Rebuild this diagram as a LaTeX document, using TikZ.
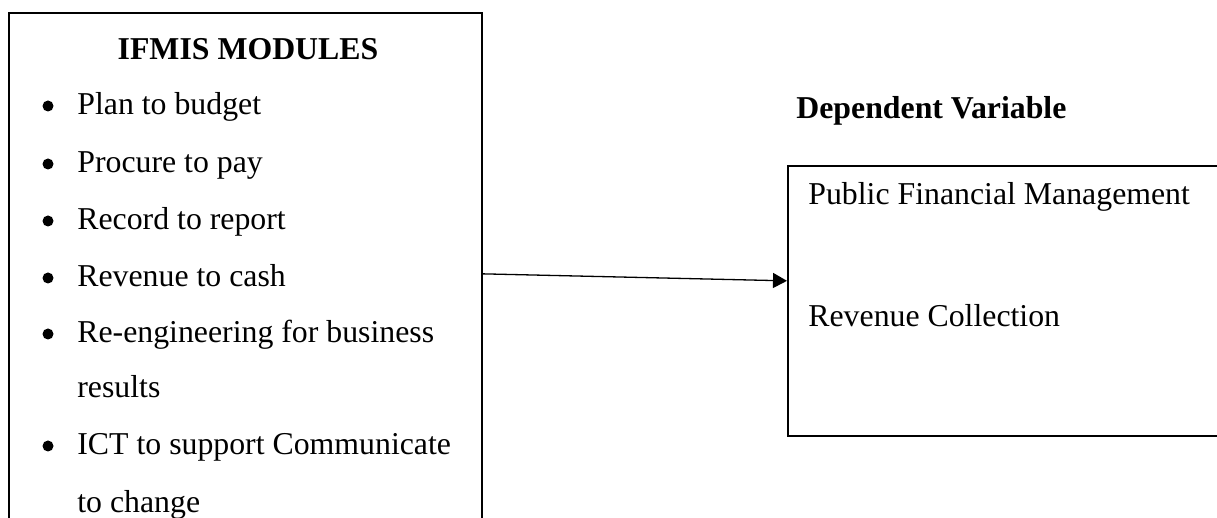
\documentclass[tikz,border=0pt]{standalone}
\usepackage{fontspec}
\setmainfont{Liberation Serif}
\usetikzlibrary{positioning, arrows.meta}

\begin{document}
\begin{tikzpicture}[
        x=0.5pt, y=-0.5pt,
        frame/.style={rectangle, draw, line width=0.85pt, inner sep=0, anchor=north west},
        heading/.style={font=\fontsize{15.9}{19}\selectfont\bfseries, inner sep=0},
        item/.style={font=\fontsize{15.9}{19}\selectfont, anchor=base west, inner sep=0},
        bul/.style={circle, fill, inner sep=0, minimum size=5.5pt},
        arrow/.style={line width=0.65pt, -{Triangle[length=7pt, width=7.5pt]}}
        ]

        \clip (0,0) rectangle (1217,518);
        \fill[white] (0,0) rectangle (1217,518);

        % Left box: IFMIS modules
        \node (modules) [frame, minimum width=236.5pt, minimum height=261pt] at (8,12) {};
        \node (title) [heading, anchor=base] at (248,60) {IFMIS MODULES};

        \node (i1) [item] at (77,115) {Plan to budget};
        \node (i2) [item] at (77,173) {Procure to pay};
        \node (i3) [item] at (77,230) {Record to report};
        \node (i4) [item] at (77,287) {Revenue to cash};
        \node (i5) [item] at (77,343) {Re-engineering for business};
        \node (i5b) [item] at (77,398) {results};
        \node (i6) [item] at (77,455) {ICT to support Communicate};
        \node (i6b) [item] at (77,512) {to change};

        \node (d1) [bul] at (48,106) {};
        \node (d2) [bul] at (48,164) {};
        \node (d3) [bul] at (48,221) {};
        \node (d4) [bul] at (48,278) {};
        \node (d5) [bul] at (48,334) {};
        \node (d6) [bul] at (48,446) {};

        % Right box: dependent variable
        \node (dvlabel) [heading, anchor=base west] at (796,119) {Dependent Variable};
        \node (dv) [frame, minimum width=226.5pt, minimum height=135pt] at (787,165) {};
        \node (pfm) [item] at (808,205) {Public Financial Management};
        \node (rc) [item] at (808,327) {Revenue Collection};

        \draw [arrow] (modules.east) -- ([yshift=10pt]dv.west);

    \end{tikzpicture}
\end{document}
